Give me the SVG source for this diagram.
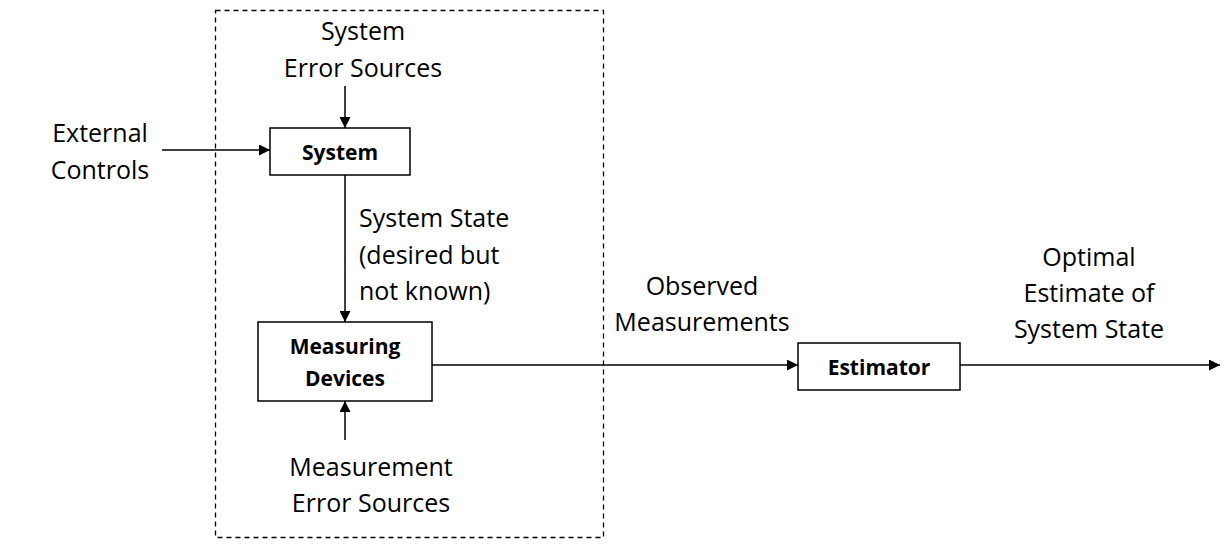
<svg xmlns="http://www.w3.org/2000/svg" width="1231" height="547" viewBox="0 0 1231 547">
<defs>
<marker id="ah" viewBox="0 0 10 10" refX="10" refY="5" markerWidth="11" markerHeight="11" markerUnits="userSpaceOnUse" orient="auto">
<path d="M0,0 L10,5 L0,10 Z" fill="#000"/>
</marker>
<style>
.lbl{font-family:"Open Sans","Noto Sans","Liberation Sans",sans-serif;font-size:25px;fill:#000}
.bl{font-family:"Open Sans","Noto Sans","Liberation Sans",sans-serif;font-size:21px;font-weight:bold;fill:#000;text-anchor:middle}
.box{fill:#fff;stroke:#000;stroke-width:1.5}
.ln{stroke:#000;stroke-width:1.5;fill:none}
</style>
</defs>
<rect width="1231" height="547" fill="#fff"/>
<g id="boundary">
<rect x="215.5" y="10.5" width="388" height="527" fill="none" stroke="#000" stroke-width="1.3" stroke-dasharray="5,4"/>
</g>
<g id="connectors">
<line class="ln" x1="162" y1="150" x2="270" y2="150" marker-end="url(#ah)"/>
<line class="ln" x1="345" y1="86" x2="345" y2="128" marker-end="url(#ah)"/>
<line class="ln" x1="345" y1="175" x2="345" y2="322" marker-end="url(#ah)"/>
<line class="ln" x1="345" y1="440" x2="345" y2="401" marker-end="url(#ah)"/>
<line class="ln" x1="432" y1="365" x2="798" y2="365" marker-end="url(#ah)"/>
<line class="ln" x1="960" y1="365" x2="1220" y2="365" marker-end="url(#ah)"/>
</g>
<g id="system">
<rect class="box" x="270" y="128" width="140" height="47"/>
<text class="bl" x="340" y="160">System</text>
</g>
<g id="measuring">
<rect class="box" x="258" y="322" width="174" height="79"/>
<text class="bl" x="345" y="354">Measuring</text>
<text class="bl" x="345" y="386">Devices</text>
</g>
<g id="estimator">
<rect class="box" x="798" y="343" width="162" height="47"/>
<text class="bl" x="879" y="375">Estimator</text>
</g>
<g id="labels">
<text class="lbl" x="363" y="40" text-anchor="middle">System</text>
<text class="lbl" x="363" y="77" text-anchor="middle">Error Sources</text>
<text class="lbl" x="100" y="142" text-anchor="middle">External</text>
<text class="lbl" x="100" y="179" text-anchor="middle">Controls</text>
<text class="lbl" x="359" y="227">System State</text>
<text class="lbl" x="359" y="264">(desired but</text>
<text class="lbl" x="359" y="300">not known)</text>
<text class="lbl" x="702" y="295" text-anchor="middle">Observed</text>
<text class="lbl" x="702" y="331" text-anchor="middle">Measurements</text>
<text class="lbl" x="1089" y="266" text-anchor="middle">Optimal</text>
<text class="lbl" x="1089" y="302" text-anchor="middle">Estimate of</text>
<text class="lbl" x="1089" y="338" text-anchor="middle">System State</text>
<text class="lbl" x="371" y="476" text-anchor="middle">Measurement</text>
<text class="lbl" x="371" y="512" text-anchor="middle">Error Sources</text>
</g>
</svg>
